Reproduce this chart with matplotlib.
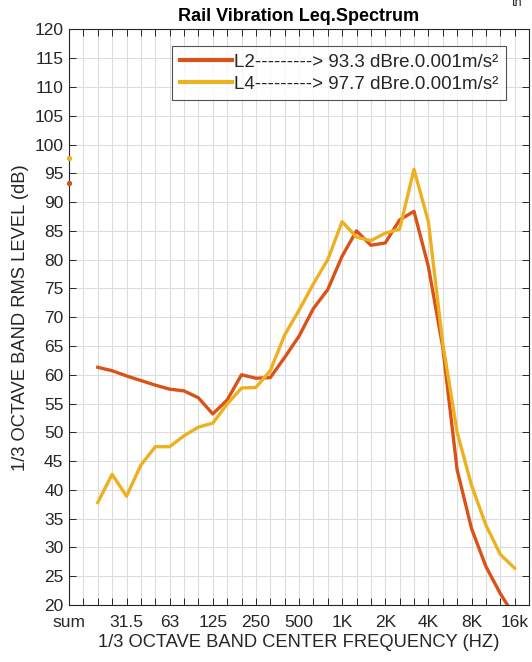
import numpy as np
import matplotlib
matplotlib.use("Agg")
import matplotlib.pyplot as plt

# ---- data ----
band_labels = ["sum", "16", "20", "25", "31.5", "40", "50", "63", "80", "100", "125",
               "160", "200", "250", "315", "400", "500", "630", "800", "1K", "1.25K",
               "1.6K", "2K", "2.5K", "3.15K", "4K", "5K", "6.3K", "8K", "10K", "12.5K",
               "16k", "20K"]
shown_labels = ["sum", "31.5", "63", "125", "250", "500", "1K", "2K", "4K", "8K", "16k"]

sum_L2 = 93.3
sum_L4 = 97.7

# 1/3 octave bands 20 Hz ... 16 kHz
L2 = [61.3, 60.7, 59.8, 59.0, 58.2, 57.5, 57.2, 56.0, 53.2, 55.6,
      60.0, 59.4, 59.5, 63.0, 66.7, 71.5, 74.8, 80.6, 85.0, 82.5,
      82.9, 86.9, 88.4, 78.8, 64.8, 43.5, 33.3, 26.7, 22.0, 18.0]
L4 = [37.8, 42.7, 38.9, 44.3, 47.5, 47.5, 49.4, 50.9, 51.6, 54.9,
      57.7, 57.8, 60.7, 66.9, 71.2, 75.8, 80.0, 86.6, 83.9, 83.3,
      84.6, 85.3, 95.7, 86.6, 65.5, 50.0, 40.8, 33.9, 28.8, 26.4]

legend_L2 = "L2---------> 93.3 dBre.0.001m/s\u00b2"
legend_L4 = "L4---------> 97.7 dBre.0.001m/s\u00b2"

c_L2 = "#D95319"
c_L4 = "#EDB120"
ink = "#262626"

plt.rcParams['font.family'] = ['Liberation Sans', 'DejaVu Sans']

fig = plt.figure(figsize=(5.32, 6.62), dpi=100)
ax = fig.add_axes([69/532, 1-605/662, 460/532, (605-29.4)/662])

x_bands = np.arange(2, 2 + len(L2))
ax.plot(x_bands, L2, color=c_L2, lw=2.4, label=legend_L2, zorder=3)
ax.plot(x_bands, L4, color=c_L4, lw=2.4, label=legend_L4, zorder=3)
ax.plot([0], [sum_L2], 'o', color=c_L2, ms=2.8, clip_on=False, zorder=4)
ax.plot([0], [sum_L4], 'o', color=c_L4, ms=2.8, clip_on=False, zorder=4)

ax.set_xlim(0, len(band_labels) - 1)
ax.set_ylim(20, 120)
ax.set_xticks(np.arange(len(band_labels)))
ax.set_xticklabels([b if b in shown_labels else "" for b in band_labels])
ax.set_yticks(np.arange(20, 121, 5))

ax.grid(True, color="#dcdcdc", lw=0.8)
ax.set_axisbelow(True)
ax.tick_params(direction='in', length=5, width=0.7, top=True, right=True,
               colors=ink, labelsize=12.5)
ax.tick_params(axis='x', pad=7)
ax.tick_params(axis='y', pad=4)
for s in ax.spines.values():
    s.set_color(ink)
    s.set_linewidth(0.8)

ax.set_title("Rail Vibration Leq.Spectrum", fontsize=13, fontweight='bold',
             color='black', pad=6)
ax.set_xlabel("1/3 OCTAVE BAND CENTER FREQUENCY (HZ)", fontsize=13.2, color=ink,
              labelpad=3)
ax.set_ylabel("1/3 OCTAVE BAND RMS LEVEL (dB)", fontsize=13.2, color=ink, labelpad=4)

leg = ax.legend(loc='upper right', bbox_to_anchor=(1 - 23/460, 1 - 17/575.6),
                fontsize=13.5, frameon=True, fancybox=False, borderpad=0.4,
                handlelength=2.8, handletextpad=0.1, labelspacing=0.25,
                borderaxespad=0)
leg.get_frame().set_edgecolor(ink)
leg.get_frame().set_linewidth(0.8)
for t in leg.get_texts():
    t.set_color(ink)
for h in leg.get_lines():
    h.set_linewidth(3.0)

fig.text(517/532, 0.996, "th", fontsize=9, color=ink, ha='center', va='center')

fig.savefig("out.png", dpi=100)
